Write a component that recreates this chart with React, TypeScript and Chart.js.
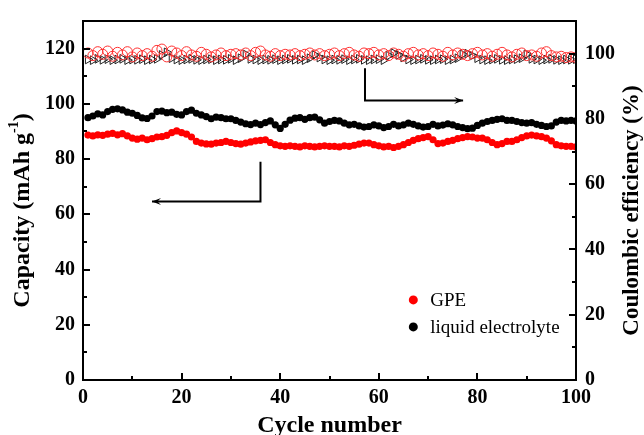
import React, { useEffect, useRef } from 'react';
import { Chart, registerables } from 'chart.js';

Chart.register(...registerables);

const cycles: number[] = Array.from({ length: 100 }, (_, i) => i + 1);

const capacityLiquid: number[] = [
  95.0, 95.6, 96.4, 96.0, 97.2, 98.0, 98.2, 97.8, 97.0, 96.6,
  95.8, 94.9, 94.7, 95.6, 97.2, 97.4, 96.8, 97.0, 96.2, 96.0,
  97.2, 97.7, 96.6, 96.0, 95.4, 94.6, 95.2, 95.0, 94.6, 94.6,
  94.0, 93.4, 92.8, 92.5, 93.0, 92.5, 93.2, 93.8, 92.4, 91.1,
  92.6, 94.1, 94.8, 95.0, 94.4, 95.0, 95.2, 94.2, 93.0, 93.6,
  94.0, 93.8, 93.0, 92.4, 92.6, 92.0, 91.6, 91.8, 92.4, 92.0,
  91.4, 91.8, 92.6, 92.0, 92.4, 93.0, 92.6, 92.0, 91.6, 91.8,
  92.6, 92.0, 92.3, 92.8, 92.4, 91.8, 91.4, 91.0, 91.2, 92.2,
  93.0, 93.6, 94.0, 94.4, 94.6, 94.0, 94.0, 93.6, 93.2, 93.0,
  93.2, 92.6, 92.2, 91.8, 92.0, 93.4, 94.0, 93.8, 94.0, 93.8,
];

const capacityGPE: number[] = [
  88.7, 88.4, 88.8, 88.6, 89.0, 89.3, 88.8, 89.2, 88.4, 87.6,
  87.2, 87.6, 87.0, 87.4, 88.0, 88.1, 88.6, 89.6, 90.2, 89.6,
  89.0, 88.0, 86.4, 85.8, 85.5, 85.4, 85.8, 86.0, 86.4, 86.0,
  85.6, 85.4, 85.8, 86.2, 86.6, 86.8, 87.0, 86.0, 85.2, 84.8,
  84.6, 84.8, 84.6, 84.4, 84.8, 84.6, 84.4, 84.6, 84.8, 84.6,
  84.6, 84.4, 84.8, 84.6, 85.0, 85.4, 85.8, 85.8, 85.2, 84.8,
  84.4, 84.6, 84.2, 84.6, 85.2, 86.0, 86.8, 87.4, 87.8, 88.1,
  87.0, 85.6, 85.8, 86.4, 86.8, 87.4, 87.8, 88.1, 88.0, 87.6,
  87.6, 87.0, 86.0, 85.2, 85.6, 86.4, 86.4, 87.0, 87.8, 88.4,
  88.7, 88.4, 88.1, 87.6, 86.6, 85.2, 84.8, 84.6, 84.6, 84.4,
];

const efficiencyGPE: number[] = [
  100.2, 99.4, 100.6, 99.8, 100.8, 99.2, 100.4, 99.6, 100.6, 99.0,
  100.2, 99.4, 100.0, 99.2, 101.0, 101.4, 99.0, 100.8, 100.2, 99.4,
  100.6, 99.6, 99.2, 100.4, 99.8, 99.0, 99.6, 100.2, 99.4, 99.8,
  100.0, 99.6, 100.2, 99.4, 100.4, 100.8, 99.6, 99.2, 100.0, 99.4,
  99.8, 99.6, 100.0, 99.4, 99.8, 100.2, 99.6, 100.0, 99.4, 99.8,
  100.2, 99.4, 100.0, 100.4, 99.6, 99.2, 100.2, 100.0, 100.4, 99.6,
  100.0, 99.4, 100.2, 99.8, 99.2, 100.0, 100.4, 99.6, 100.0, 99.4,
  100.2, 99.8, 99.2, 100.4, 99.6, 100.2, 99.8, 99.4, 100.0, 100.4,
  99.6, 100.0, 99.2, 99.8, 100.4, 99.6, 99.0, 99.8, 100.2, 99.4,
  99.6, 99.2, 100.2, 100.6, 99.4, 99.0, 99.2, 98.8, 99.0, 98.8,
];

const efficiencyLiquid: number[] = [
  98.2, 98.0, 98.4, 98.1, 98.3, 98.0, 98.2, 98.4, 98.0, 98.2,
  98.1, 98.3, 98.0, 98.2, 98.4, 99.6, 100.4, 98.6, 98.2, 98.0,
  98.2, 98.4, 98.1, 98.0, 98.2, 98.3, 98.0, 98.2, 98.1, 98.4,
  98.0, 98.6, 99.8, 98.4, 98.2, 98.0, 98.2, 98.1, 98.3, 98.0,
  98.2, 98.4, 98.1, 98.2, 98.0, 98.6, 99.6, 98.8, 98.2, 98.0,
  98.2, 98.1, 98.3, 98.0, 98.2, 98.4, 98.1, 98.0, 98.2, 98.3,
  98.0, 99.4, 100.2, 99.6, 98.8, 98.2, 98.0, 98.2, 98.4, 98.1,
  98.0, 98.2, 98.3, 98.0, 98.2, 98.6, 99.8, 100.0, 99.4, 98.6,
  98.2, 98.0, 98.2, 98.4, 98.1, 98.0, 98.2, 98.3, 98.6, 99.8,
  98.4, 98.2, 98.0, 98.2, 98.4, 98.1, 98.0, 98.2, 98.1, 98.3,
];

const xMajorTicks: number[] = [0, 20, 40, 60, 80, 100];
const xMinorTicks: number[] = [10, 30, 50, 70, 90];
const leftMajorTicks: number[] = [0, 20, 40, 60, 80, 100, 120];
const leftMinorTicks: number[] = [10, 30, 50, 70, 90, 110];
const rightMajorTicks: number[] = [0, 20, 40, 60, 80, 100];
const rightMinorTicks: number[] = [10, 30, 50, 70, 90];

// arrows: [x, y] points in (cycle, capacity) coordinates
const arrowToCapacity: number[][] = [[36, 79], [36, 64.6], [14, 64.6]];
const arrowToEfficiency: number[][] = [[57.2, 112.9], [57.2, 101.2], [77.1, 101.2]];

const legendLabels: string[] = ['GPE', 'liquid electrolyte'];
const legendColors: string[] = ['#ff0000', '#000000'];

const SERIF = '"Liberation Serif", "Times New Roman", serif';

const overlayPlugin = {
  id: 'overlay',
  afterDraw(chart: any) {
    const { ctx, chartArea: a, scales } = chart;
    const sx = scales.x, sl = scales.y, sr = scales.y1;
    ctx.save();
    ctx.strokeStyle = '#000';
    ctx.fillStyle = '#000';

    const line = (x1: number, y1: number, x2: number, y2: number) => {
      ctx.beginPath();
      ctx.moveTo(x1, y1);
      ctx.lineTo(x2, y2);
      ctx.stroke();
    };

    // ticks (inward)
    ctx.lineWidth = 2;
    xMajorTicks.forEach((v) => { const p = Math.round(sx.getPixelForValue(v)); line(p, a.bottom, p, a.bottom - 7); });
    xMinorTicks.forEach((v) => { const p = Math.round(sx.getPixelForValue(v)); line(p, a.bottom, p, a.bottom - 4); });
    leftMajorTicks.forEach((v) => { const p = Math.round(sl.getPixelForValue(v)); line(a.left, p, a.left + 7, p); });
    leftMinorTicks.forEach((v) => { const p = Math.round(sl.getPixelForValue(v)); line(a.left, p, a.left + 4, p); });
    rightMajorTicks.forEach((v) => { const p = Math.round(sr.getPixelForValue(v)); line(a.right, p, a.right - 7, p); });
    rightMinorTicks.forEach((v) => { const p = Math.round(sr.getPixelForValue(v)); line(a.right, p, a.right - 4, p); });

    // frame
    ctx.lineWidth = 2;
    ctx.strokeRect(a.left, a.top, a.right - a.left, a.bottom - a.top);

    // arrows
    const drawArrow = (pts: number[][]) => {
      const px = pts.map(([cx, cy]) => [sx.getPixelForValue(cx), sl.getPixelForValue(cy)]);
      ctx.lineWidth = 2;
      ctx.beginPath();
      ctx.moveTo(px[0][0], px[0][1]);
      for (let i = 1; i < px.length; i++) ctx.lineTo(px[i][0], px[i][1]);
      ctx.stroke();
      const [x2, y2] = px[px.length - 1];
      const [x1, y1] = px[px.length - 2];
      const ang = Math.atan2(y2 - y1, x2 - x1);
      const L = 9, W = 3.5;
      ctx.beginPath();
      ctx.moveTo(x2, y2);
      ctx.lineTo(x2 - L * Math.cos(ang) + W * Math.sin(ang), y2 - L * Math.sin(ang) - W * Math.cos(ang));
      ctx.lineTo(x2 - L * 0.6 * Math.cos(ang), y2 - L * 0.6 * Math.sin(ang));
      ctx.lineTo(x2 - L * Math.cos(ang) - W * Math.sin(ang), y2 - L * Math.sin(ang) + W * Math.cos(ang));
      ctx.closePath();
      ctx.fill();
    };
    drawArrow(arrowToCapacity);
    drawArrow(arrowToEfficiency);

    // legend
    const lgX = sx.getPixelForValue(67);
    const lgY0 = sl.getPixelForValue(29);
    legendLabels.forEach((lab, i) => {
      const y = lgY0 + i * 27;
      ctx.fillStyle = legendColors[i];
      ctx.beginPath();
      ctx.arc(lgX, y, 4.5, 0, Math.PI * 2);
      ctx.fill();
      ctx.fillStyle = '#000';
      ctx.font = `19px ${SERIF}`;
      ctx.textAlign = 'left';
      ctx.textBaseline = 'middle';
      ctx.fillText(lab, lgX + 17, y + 1);
    });

    // axis titles
    ctx.fillStyle = '#000';
    ctx.font = `bold 24px ${SERIF}`;
    ctx.textAlign = 'center';
    ctx.textBaseline = 'middle';
    ctx.fillText('Cycle number', (a.left + a.right) / 2, 426);

    // left title with superscript
    const cy = (a.top + a.bottom) / 2 + 10;
    ctx.save();
    ctx.translate(23, cy);
    ctx.rotate(-Math.PI / 2);
    const main = 'Capacity (mAh g';
    const sup = '-1';
    const tail = ')';
    ctx.font = `bold 24px ${SERIF}`;
    const wMain = ctx.measureText(main).width;
    const wTail = ctx.measureText(tail).width;
    ctx.font = `bold 14px ${SERIF}`;
    const wSup = ctx.measureText(sup).width;
    const total = wMain + wSup + wTail;
    let xx = -total / 2;
    ctx.textAlign = 'left';
    ctx.font = `bold 24px ${SERIF}`;
    ctx.fillText(main, xx, 0);
    xx += wMain;
    ctx.font = `bold 14px ${SERIF}`;
    ctx.fillText(sup, xx, -9);
    xx += wSup;
    ctx.font = `bold 24px ${SERIF}`;
    ctx.fillText(tail, xx, 0);
    ctx.restore();

    // right title
    ctx.save();
    ctx.translate(632, (a.top + a.bottom) / 2 + 10);
    ctx.rotate(-Math.PI / 2);
    ctx.font = `bold 23px ${SERIF}`;
    ctx.textAlign = 'center';
    ctx.textBaseline = 'middle';
    ctx.fillText('Coulombic efficiency (%)', 0, 0);
    ctx.restore();

    ctx.restore();
  },
};

export default function App() {
  const ref = useRef<HTMLCanvasElement | null>(null);

  useEffect(() => {
    const canvas = ref.current;
    if (!canvas) return;
    const pts = (arr: number[]) => arr.map((v, i) => ({ x: cycles[i], y: v }));
    const tickFont = { family: SERIF, size: 20, weight: 'bold' as const };

    const chart = new Chart(canvas, {
      type: 'line',
      data: {
        datasets: [
          {
            label: 'GPE efficiency',
            data: pts(efficiencyGPE),
            yAxisID: 'y1',
            showLine: false,
            pointStyle: 'circle',
            pointRadius: 5,
            pointBorderWidth: 1,
            pointBorderColor: '#ff3030',
            pointBackgroundColor: 'rgba(255,255,255,0)',
            order: 1,
          },
          {
            label: 'liquid electrolyte efficiency',
            data: pts(efficiencyLiquid),
            yAxisID: 'y1',
            showLine: false,
            pointStyle: 'triangle',
            rotation: 90,
            pointRadius: 5,
            pointBorderWidth: 1,
            pointBorderColor: '#222',
            pointBackgroundColor: 'rgba(255,255,255,0)',
            order: 2,
          },
          {
            label: 'GPE',
            data: pts(capacityGPE),
            yAxisID: 'y',
            showLine: false,
            pointStyle: 'circle',
            pointRadius: 3.6,
            pointBorderWidth: 0,
            pointBackgroundColor: '#ff0000',
            order: 3,
          },
          {
            label: 'liquid electrolyte',
            data: pts(capacityLiquid),
            yAxisID: 'y',
            showLine: false,
            pointStyle: 'circle',
            pointRadius: 3.6,
            pointBorderWidth: 0,
            pointBackgroundColor: '#000000',
            order: 4,
          },
        ],
      },
      options: {
        responsive: false,
        animation: false,
        layout: { padding: { top: 13, left: 0, right: 0, bottom: 0 } },
        plugins: { legend: { display: false }, tooltip: { enabled: false } },
        scales: {
          x: {
            type: 'linear',
            min: 0,
            max: 100,
            position: 'bottom',
            grid: { display: false, drawTicks: false },
            border: { display: false },
            ticks: { font: tickFont, color: '#000', padding: 6, maxRotation: 0 },
            afterBuildTicks: (s: any) => { s.ticks = xMajorTicks.map((v) => ({ value: v })); },
            afterFit: (s: any) => { s.height = 55; },
          },
          y: {
            type: 'linear',
            min: 0,
            max: 130,
            position: 'left',
            grid: { display: false, drawTicks: false },
            border: { display: false },
            ticks: { font: tickFont, color: '#000', padding: 8 },
            afterBuildTicks: (s: any) => { s.ticks = leftMajorTicks.map((v) => ({ value: v })); },
            afterFit: (s: any) => { s.width = 83; },
          },
          y1: {
            type: 'linear',
            min: 0,
            max: 110,
            position: 'right',
            grid: { display: false, drawTicks: false },
            border: { display: false },
            ticks: { font: tickFont, color: '#000', padding: 9 },
            afterBuildTicks: (s: any) => { s.ticks = rightMajorTicks.map((v) => ({ value: v })); },
            afterFit: (s: any) => { s.width = 68; },
          },
        },
      },
      plugins: [overlayPlugin],
    });
    return () => chart.destroy();
  }, []);

  return (
    <div style={{ position: 'fixed', left: 0, top: 0, width: 644, height: 435, background: '#fff' }}>
      <canvas ref={ref} width={644} height={435} style={{ width: 644, height: 435, display: 'block' }} />
    </div>
  );
}
